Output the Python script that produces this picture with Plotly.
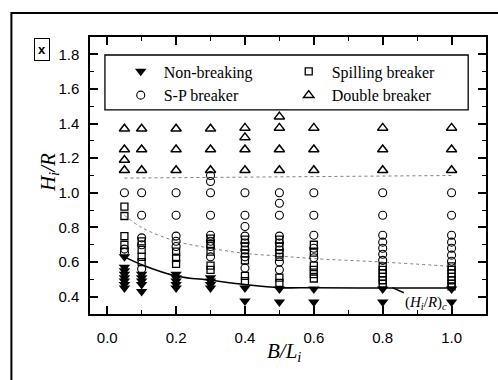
import plotly.graph_objects as go

# Relative width B/L_i of each tested structure
non_breaking_x = [0.05] * 8 + [0.1] * 5 + [0.2] * 5 + [0.3] * 4 + [0.4] * 2 + [0.5] * 2 + [0.6] * 2 + [0.8] * 2 + [1.0] * 2
non_breaking_y = [0.63, 0.57, 0.55, 0.53, 0.51, 0.49, 0.47, 0.45,
                  0.53, 0.51, 0.49, 0.47, 0.43,
                  0.53, 0.51, 0.49, 0.47, 0.45,
                  0.51, 0.49, 0.47, 0.45,
                  0.45, 0.375,
                  0.445, 0.37,
                  0.445, 0.37,
                  0.445, 0.37,
                  0.445, 0.37]

spilling_x = [0.05] * 4 + [0.1] * 4 + [0.2] * 3 + [0.3] * 5 + [0.4] * 6 + [0.5] * 6 + [0.6] * 6 + [0.8] * 6 + [1.0] * 7
spilling_y = [0.92, 0.866, 0.75, 0.70,
              0.72, 0.67, 0.63, 0.60,
              0.66, 0.625, 0.59,
              0.735, 0.705, 0.66, 0.58, 0.555,
              0.73, 0.69, 0.65, 0.61, 0.52, 0.49,
              0.73, 0.69, 0.65, 0.63, 0.51, 0.48,
              0.70, 0.655, 0.58, 0.555, 0.53, 0.505,
              0.575, 0.555, 0.535, 0.515, 0.495, 0.475,
              0.575, 0.555, 0.535, 0.515, 0.495, 0.475, 0.46]

sp_x = [0.05] * 3 + [0.1] * 5 + [0.2] * 5 + [0.3] * 8 + [0.4] * 8 + [0.5] * 8 + [0.6] * 5 + [0.8] * 7 + [1.0] * 7
sp_y = [1.0, 0.675, 0.655,
        1.0, 0.87, 0.74, 0.70, 0.56,
        1.0, 0.87, 0.75, 0.72, 0.69,
        1.10, 1.065, 1.0, 0.87, 0.755, 0.72, 0.69, 0.63,
        1.0, 0.87, 0.805, 0.75, 0.71, 0.67, 0.63, 0.565,
        1.0, 0.94, 0.87, 0.75, 0.71, 0.67, 0.60, 0.555,
        1.0, 0.87, 0.755, 0.68, 0.625,
        1.0, 0.87, 0.755, 0.715, 0.68, 0.645, 0.61,
        1.0, 0.87, 0.755, 0.715, 0.68, 0.64, 0.605]

double_x = [0.05] * 4 + [0.1] * 3 + [0.2] * 3 + [0.3] * 3 + [0.4] * 4 + [0.5] * 4 + [0.6] * 3 + [0.8] * 3 + [1.0] * 3
double_y = [1.37, 1.25, 1.19, 1.13,
            1.37, 1.25, 1.13,
            1.37, 1.25, 1.13,
            1.37, 1.25, 1.13,
            1.375, 1.32, 1.25, 1.13,
            1.44, 1.375, 1.25, 1.13,
            1.375, 1.25, 1.13,
            1.375, 1.25, 1.13,
            1.375, 1.25, 1.13]

# Critical wave height (H_i/R)_c and the two regime boundaries
critical_x = [0.05, 0.1, 0.2, 0.3, 0.4, 0.5, 0.6, 0.8, 1.0]
critical_y = [0.63, 0.585, 0.52, 0.495, 0.47, 0.452, 0.452, 0.45, 0.45]
upper_bound_x = [0.05, 0.3, 0.6, 1.0]
upper_bound_y = [1.085, 1.09, 1.095, 1.10]
lower_bound_x = [0.05, 0.1, 0.2, 0.3, 0.4, 0.5, 0.6, 0.8, 1.0]
lower_bound_y = [0.87, 0.80, 0.72, 0.68, 0.65, 0.635, 0.62, 0.60, 0.575]

x_ticks = [0.0, 0.2, 0.4, 0.6, 0.8, 1.0]
x_tick_text = ["0.0", "0.2", "0.4", "0.6", "0.8", "1.0"]
y_ticks = [0.4, 0.6, 0.8, 1.0, 1.2, 1.4, 1.6, 1.8]
y_tick_text = ["0.4", "0.6", "0.8", "1.0", "1.2", "1.4", "1.6", "1.8"]

SERIF = "Liberation Serif, Times New Roman, serif"
SANS = "Liberation Sans, Arial, sans-serif"

fig = go.Figure()

fig.add_trace(go.Scatter(x=upper_bound_x, y=upper_bound_y, mode="lines",
                         line=dict(color="#808080", width=1, dash="dot"),
                         showlegend=False, hoverinfo="skip"))
fig.add_trace(go.Scatter(x=lower_bound_x, y=lower_bound_y, mode="lines", line_shape="spline",
                         line=dict(color="#808080", width=1, dash="dot"),
                         showlegend=False, hoverinfo="skip"))
fig.add_trace(go.Scatter(x=critical_x, y=critical_y, mode="lines", line_shape="spline",
                         line=dict(color="black", width=1.6),
                         showlegend=False, hoverinfo="skip"))

fig.add_trace(go.Scatter(x=non_breaking_x, y=non_breaking_y, mode="markers", name="Non-breaking",
                         marker=dict(symbol="triangle-down", size=10, color="black")))
fig.add_trace(go.Scatter(x=spilling_x, y=spilling_y, mode="markers", name="Spilling breaker",
                         marker=dict(symbol="square-open", size=7, color="black", line=dict(width=1.3))))
fig.add_trace(go.Scatter(x=sp_x, y=sp_y, mode="markers", name="S-P breaker",
                         marker=dict(symbol="circle-open", size=8, color="black", line=dict(width=1.1))))
fig.add_trace(go.Scatter(x=double_x, y=double_y, mode="markers", name="Double breaker",
                         marker=dict(symbol="triangle-up-open", size=9, color="black", line=dict(width=1.5))))

axis_common = dict(
    showline=True, linewidth=1.5, linecolor="black", mirror="allticks",
    ticks="inside", ticklen=8, tickwidth=1.5, tickcolor="black",
    minor=dict(ticks="inside", ticklen=4, tickwidth=1.2, tickcolor="black", dtick=0.1),
    showgrid=False, zeroline=False,
    tickfont=dict(family=SANS, size=15, color="black"),
)

fig.update_xaxes(range=[-0.05, 1.1], tickvals=x_ticks, ticktext=x_tick_text,
                 ticklabelstandoff=9, **axis_common)
fig.update_yaxes(range=[0.3, 1.9], tickvals=y_ticks, ticktext=y_tick_text,
                 ticklabelstandoff=6, **axis_common)

annotations = [
    dict(text="<i>H</i><sub><i>i</i></sub><i>/R</i>", xref="paper", yref="paper",
         x=-0.143, y=0.51, showarrow=False, textangle=-90,
         font=dict(family=SERIF, size=21, color="black")),
    dict(text="<i>B/L</i><sub><i>i</i></sub>", xref="paper", yref="paper",
         x=0.49, y=-0.19, showarrow=False,
         font=dict(family=SERIF, size=21, color="black")),
    dict(text="(<i>H</i><sub><i>i</i></sub>/<i>R</i>)<sub><i>c</i></sub>", x=0.828, y=0.452,
         xref="x", yref="y", showarrow=True, arrowhead=0, arrowwidth=1.4, arrowcolor="black",
         ax=34, ay=15, font=dict(family=SERIF, size=15, color="black")),
    dict(text="<b>x</b>", xref="paper", yref="paper", x=-0.141, y=0.996, showarrow=False,
         bordercolor="black", borderwidth=1, borderpad=3,
         font=dict(family=SANS, size=13, color="black")),
]

# Outer frame around the figure panel and the legend box
shapes = [
    dict(type="path", xref="paper", yref="paper",
         path="M -0.1985,-0.3 L -0.1985,1.0866 L 1.05,1.0866",
         line=dict(color="black", width=2)),
    dict(type="rect", xref="paper", yref="paper", x0=0.0377, x1=0.955, y0=0.737, y1=0.935,
         line=dict(color="black", width=1.3), fillcolor="white", layer="below"),
]

fig.update_layout(
    width=498, height=380,
    margin=dict(l=90, r=10, t=37, b=66),
    paper_bgcolor="white", plot_bgcolor="white",
    annotations=annotations, shapes=shapes,
    legend=dict(orientation="h", x=0.07, y=0.937, xanchor="left", yanchor="top",
                entrywidth=117, entrywidthmode="pixels", itemwidth=36,
                bgcolor="rgba(0,0,0,0)",
                borderwidth=0, font=dict(family=SERIF, size=16, color="black"),
                tracegroupgap=0),
)

fig.write_html("out.html")
